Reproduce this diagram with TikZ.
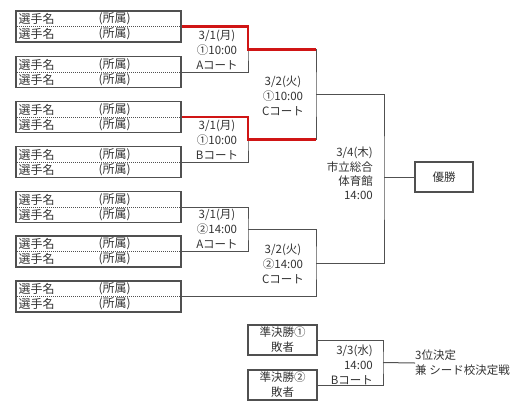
\documentclass[tikz,border=0pt]{standalone}
\usepackage{fontspec}
\setmainfont{Noto Sans CJK JP}
\usetikzlibrary{calc,positioning}
\definecolor{linex}{HTML}{505050}
\definecolor{redx}{HTML}{D01515}
\definecolor{textx}{HTML}{333333}
\tikzset{
  ln/.style={linex,line width=1pt},
  win/.style={redx,line width=2.4pt},
  sep/.style={linex,line width=0.7pt,dash pattern=on 1pt off 1pt},
  pairbox/.style={draw=linex,line width=1.3pt,minimum width=165pt,minimum height=31pt,inner sep=0pt},
  smallbox/.style={draw=linex,line width=1.3pt,minimum width=69pt,minimum height=30pt,inner sep=0pt,align=center,font=\fontsize{11.5}{15}\selectfont,text=textx},
  lab/.style={align=center,font=\fontsize{11.5}{15}\selectfont,text=textx,inner sep=0pt},
  nm/.style={font=\fontsize{12}{13}\selectfont,text=textx,anchor=west,inner sep=0pt}
}
\begin{document}
\begin{tikzpicture}[x=1pt,y=-1pt]
\useasboundingbox (0,0) rectangle (521,410);
\foreach \n/\y in {1/26.5,2/72,3/117,4/162,5/207,6/251.5,7/296.5} {
  \node[pairbox] (p\n) at (98.5,\y) {};
  \draw[sep] (p\n.west) -- (p\n.east);
  \node[nm] (p\n-a) at ($(p\n.west)+(3,-7.5)$) {選手名};
  \node[nm] (p\n-b) at ($(p\n.west)+(83,-7.5)$) {(所属)};
  \node[nm] (p\n-c) at ($(p\n.west)+(3,7.5)$) {選手名};
  \node[nm] (p\n-d) at ($(p\n.west)+(83,7.5)$) {(所属)};
}
\coordinate (m1) at (248,49.5);
\coordinate (m2) at (248,139.5);
\coordinate (m3) at (248,229.5);
\coordinate (c1) at (316,94.5);
\coordinate (c2) at (316,263);
\coordinate (f) at (384,177);
\coordinate (t) at (383,362.5);
\node[smallbox,minimum width=58pt] (champ) at (444,177) {優勝};
\node[smallbox] (l1) at (282.5,340) {準決勝①\\敗者};
\node[smallbox] (l2) at (282.5,385) {準決勝②\\敗者};
\node[lab,align=left,anchor=west] (third) at (415,363) {3位決定\\兼 シード校決定戦};
% bracket lines
\draw[ln] (p1.east) -| (m1) |- (p2.east);
\draw[ln] (p3.east) -| (m2) |- (p4.east);
\draw[ln] (p5.east) -| (m3) |- (p6.east);
\draw[ln] (m1) -| (c1) |- (m2);
\draw[ln] (m3) -| (c2) |- (p7.east);
\draw[ln] (c1) -| (f) |- (c2);
\draw[ln] (f) -- (champ.west);
\draw[ln] (l1.east) -| (t) |- (l2.east);
\draw[ln] (t) -- (third.west);
\draw[win] (p1.east) -| (m1) -- (m1 -| c1);
\draw[win] (p3.east) -| (m2) -- (m2 -| c1);
% match labels
\node[lab] (d1) at (217,50) {3/1(月)\\①10:00\\Aコート};
\node[lab] (d2) at (217,140) {3/1(月)\\①10:00\\Bコート};
\node[lab] (d3) at (217,229) {3/1(月)\\②14:00\\Aコート};
\node[lab] (e1) at (283,96) {3/2(火)\\①10:00\\Cコート};
\node[lab] (e2) at (283,264) {3/2(火)\\②14:00\\Cコート};
\node[lab,align=right,anchor=east,font=\fontsize{11.5}{14.3}\selectfont] (fin) at (373,173.5) {3/4(木)\\市立総合\\体育館\\14:00};
\node[lab,align=right,anchor=east] (d4) at (373,365) {3/3(水)\\14:00\\Bコート};
\end{tikzpicture}
\end{document}
